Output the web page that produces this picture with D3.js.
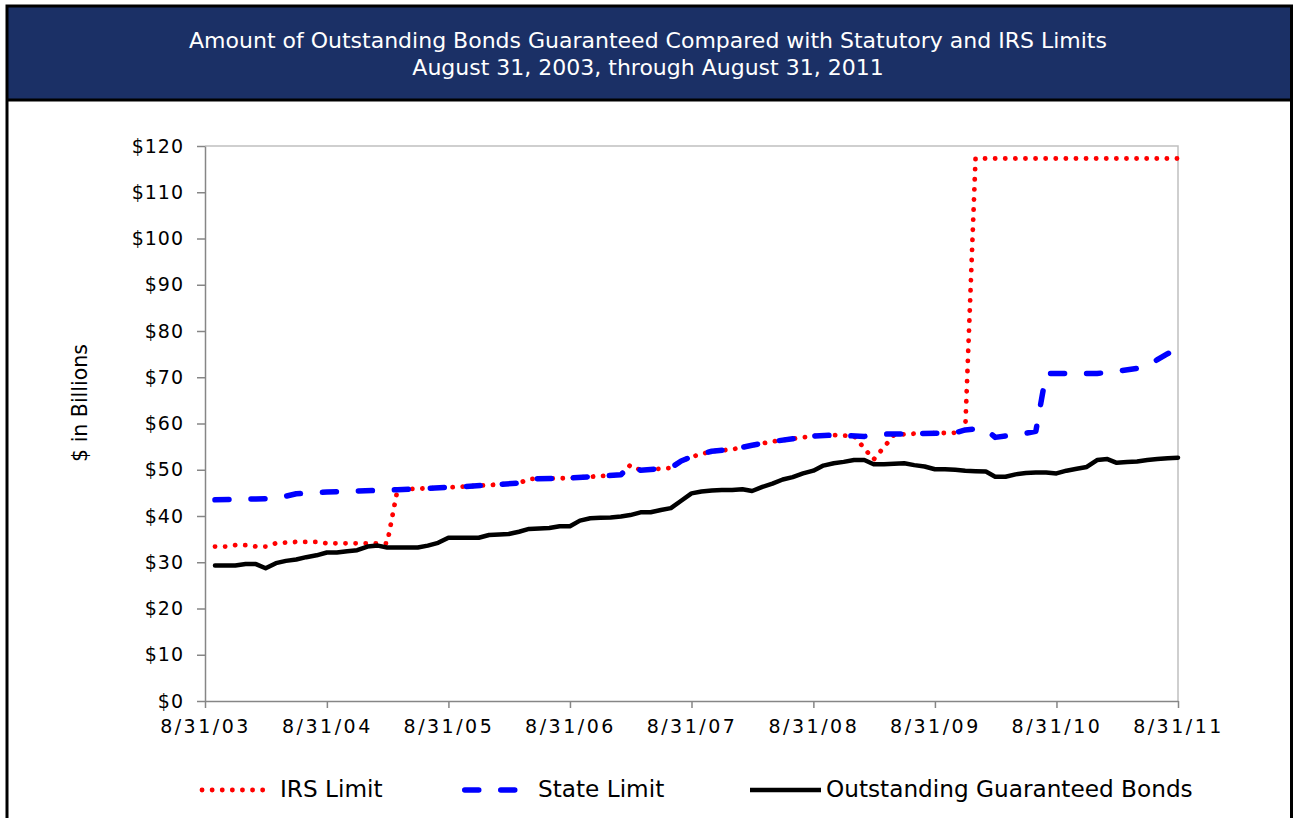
<!DOCTYPE html>
<html>
<head>
<meta charset="utf-8">
<script src="https://cdn.jsdelivr.net/npm/d3@7"></script>
<style>
  body { margin: 0; background: #fff; }
  svg { display: block; font-family: "DejaVu Sans", Verdana, sans-serif; }
</style>
</head>
<body>
<script>
// chart values
const titleLines = [
  "Amount of Outstanding Bonds Guaranteed Compared with Statutory and IRS Limits",
  "August 31, 2003, through August 31, 2011"
];
const xTickLabels = ["8/31/03", "8/31/04", "8/31/05", "8/31/06", "8/31/07", "8/31/08", "8/31/09", "8/31/10", "8/31/11"];
const yTicks = [0, 10, 20, 30, 40, 50, 60, 70, 80, 90, 100, 110, 120];

// outstanding guaranteed bonds, month ends Sep 2003 .. Aug 2011
const bondStart = "2003-09";
const bondValues = [
  29.3, 29.3, 29.3, 29.6, 29.6, 28.7, 29.8, 30.3, 30.6, 31.1, 31.5, 32.1,
  32.1, 32.4, 32.6, 33.4, 33.6, 33.2, 33.2, 33.2, 33.2, 33.6, 34.2, 35.3,
  35.3, 35.3, 35.3, 35.9, 36.0, 36.1, 36.6, 37.2, 37.3, 37.4, 37.8, 37.8,
  39.0, 39.5, 39.6, 39.7, 39.9, 40.2, 40.8, 40.8, 41.3, 41.7, 43.3, 44.9,
  45.3, 45.5, 45.6, 45.6, 45.8, 45.4, 46.3, 47.0, 47.9, 48.4, 49.2, 49.8,
  50.9, 51.4, 51.7, 52.1, 52.1, 51.2, 51.2, 51.3, 51.4, 51.0, 50.7, 50.1,
  50.1, 50.0, 49.8, 49.7, 49.6, 48.5, 48.5, 49.0, 49.3, 49.4, 49.4, 49.2,
  49.8, 50.2, 50.6, 52.1, 52.3, 51.5, 51.7, 51.8, 52.1, 52.3, 52.5, 52.6
];

// state limit
const stateMonths = [
  "2003-09", "2004-01", "2004-03", "2004-05", "2004-08", "2004-11", "2005-02", "2005-03",
  "2005-06", "2005-09", "2005-12", "2006-03", "2006-04", "2006-08", "2006-10", "2007-01",
  "2007-02", "2007-03", "2007-06", "2007-07", "2007-08", "2007-10", "2007-12", "2008-02",
  "2008-04", "2008-06", "2008-08", "2008-10", "2009-01", "2009-03", "2009-06", "2009-10",
  "2009-11", "2009-12", "2010-01", "2010-02", "2010-03", "2010-05", "2010-06", "2010-07",
  "2010-12", "2011-02", "2011-04", "2011-05", "2011-06", "2011-07", "2011-08"
];
const stateValues = [
  43.5, 43.7, 43.8, 44.8, 45.2, 45.4, 45.6, 45.7,
  46.0, 46.3, 46.7, 47.1, 48.0, 48.2, 48.5, 48.9,
  51.0, 49.9, 50.4, 51.9, 52.8, 54.0, 54.4, 55.3,
  56.1, 56.7, 57.3, 57.5, 57.2, 57.7, 57.8, 58.0,
  58.6, 58.8, 58.7, 57.0, 57.3, 57.9, 58.3, 70.8,
  70.8, 71.3, 71.9, 72.5, 73.8, 75.1, 76.2
];

// IRS limit
const irsMonths = [
  "2003-09", "2003-10", "2003-11", "2003-12", "2004-01", "2004-02", "2004-03", "2004-05",
  "2004-07", "2004-08", "2005-02", "2005-03", "2005-06", "2005-09", "2005-12", "2006-03",
  "2006-04", "2006-08", "2006-10", "2007-01", "2007-02", "2007-03", "2007-06", "2007-07",
  "2007-08", "2007-10", "2007-12", "2008-02", "2008-04", "2008-06", "2008-08", "2008-10",
  "2008-12", "2009-02", "2009-04", "2009-06", "2009-10", "2009-11", "2009-12", "2011-08"
];
const irsValues = [
  33.4, 33.4, 33.7, 33.7, 33.4, 33.4, 34.1, 34.4,
  34.4, 34.1, 34.1, 45.7, 46.0, 46.3, 46.7, 47.1,
  48.0, 48.2, 48.5, 48.9, 51.0, 49.9, 50.4, 51.9,
  52.8, 54.0, 54.4, 55.3, 56.1, 56.7, 57.3, 57.5,
  57.3, 52.2, 57.5, 57.8, 58.0, 58.6, 117.3, 117.3
];

const legendLabels = ["IRS Limit", "State Limit", "Outstanding Guaranteed Bonds"];

const W = 1295, H = 818;
const svg = d3.select("body").append("svg").attr("width", W).attr("height", H);

// month "YYYY-MM" -> last day of that month
const monthEnd = s => {
  const [yy, mm] = s.split("-").map(Number);
  return new Date(yy, mm, 0);
};
const parseTick = d3.timeParse("%m/%d/%y");

const x = d3.scaleTime()
  .domain([parseTick(xTickLabels[0]), parseTick(xTickLabels[xTickLabels.length - 1])])
  .range([205, 1178]);
const y = d3.scaleLinear().domain([0, 120]).range([701, 146]);

// header band and frame
svg.append("rect").attr("x", 7).attr("y", 6).attr("width", 1284.5).attr("height", 94)
  .attr("fill", "#1b3066");
svg.append("rect").attr("x", 7).attr("y", 6).attr("width", 1284.5).attr("height", 900)
  .attr("fill", "none").attr("stroke", "#000").attr("stroke-width", 3);
svg.append("line").attr("x1", 7).attr("x2", 1291.5).attr("y1", 100).attr("y2", 100)
  .attr("stroke", "#000").attr("stroke-width", 3);

svg.selectAll("text.title").data(titleLines).enter().append("text")
  .attr("class", "title")
  .attr("x", 648).attr("y", (d, i) => 48 + i * 27)
  .attr("text-anchor", "middle")
  .attr("fill", "#fff")
  .style("font-size", "22px")
  .text(d => d);

// plot border (top / right)
svg.append("path")
  .attr("d", `M${x.range()[0]},${y(120)}H${x.range()[1]}V${y(0)}`)
  .attr("fill", "none").attr("stroke", "#c0c0c0").attr("stroke-width", 1.5);

const yAxis = svg.append("g")
  .attr("transform", `translate(${x.range()[0]},0)`)
  .call(d3.axisLeft(y).tickValues(yTicks).tickFormat(d => "$" + d)
    .tickSize(8).tickSizeOuter(0).tickPadding(13));

const xAxis = svg.append("g")
  .attr("transform", `translate(0,${y(0)})`)
  .call(d3.axisBottom(x).tickValues(xTickLabels.map(parseTick)).tickFormat(d3.timeFormat("%-m/%d/%y"))
    .tickSize(7).tickSizeOuter(0).tickPadding(12));

[yAxis, xAxis].forEach(g => {
  g.select(".domain").attr("stroke", "#868686").attr("stroke-width", 1.5);
  g.selectAll(".tick line").attr("stroke", "#868686").attr("stroke-width", 1.5);
  g.selectAll(".tick text").attr("fill", "#000").style("font-size", "19px").style("font-family", "DejaVu Sans");
});
xAxis.selectAll(".tick text").style("letter-spacing", "2.5px");
yAxis.selectAll(".tick text").style("letter-spacing", "1px");

svg.append("text")
  .attr("transform", "translate(87,403) rotate(-90)")
  .attr("text-anchor", "middle")
  .style("font-size", "20.5px")
  .text("$ in Billions");

// series
const line = d3.line().x(d => x(d.date)).y(d => y(d.value));

const bondFirst = monthEnd(bondStart);
const bondData = bondValues.map((v, i) => ({
  date: new Date(bondFirst.getFullYear(), bondFirst.getMonth() + i + 1, 0),
  value: v
}));
const stateData = stateMonths.map((m, i) => ({ date: monthEnd(m), value: stateValues[i] }));
const irsData = irsMonths.map((m, i) => ({ date: monthEnd(m), value: irsValues[i] }));

const styles = [
  { color: "#ff0000", width: 4.8, dash: "0.1,10" },
  { color: "#0000ff", width: 5.5, dash: "14,22" },
  { color: "#000000", width: 4.5, dash: null }
];

[irsData, stateData, bondData].forEach((data, i) => {
  svg.append("path")
    .datum(data)
    .attr("d", line)
    .attr("fill", "none")
    .attr("stroke", styles[i].color)
    .attr("stroke-width", styles[i].width)
    .attr("stroke-linecap", "round")
    .attr("stroke-linejoin", "round")
    .attr("stroke-dasharray", styles[i].dash);
});

// legend
const legendItems = [
  { x1: 202, x2: 268, tx: 280 },
  { x1: 464.75, x2: 514.75, tx: 538 },
  { x1: 750, x2: 821, tx: 826 }
];
const legend = svg.append("g");
legendItems.forEach((it, i) => {
  legend.append("line")
    .attr("x1", it.x1).attr("x2", it.x2).attr("y1", 790).attr("y2", 790)
    .attr("stroke", styles[i].color)
    .attr("stroke-width", styles[i].width)
    .attr("stroke-linecap", i === 2 ? "butt" : "round")
    .attr("stroke-dasharray", styles[i].dash);
  legend.append("text")
    .attr("x", it.tx).attr("y", 797)
    .style("font-size", "23.2px")
    .text(legendLabels[i]);
});
</script>
</body>
</html>
